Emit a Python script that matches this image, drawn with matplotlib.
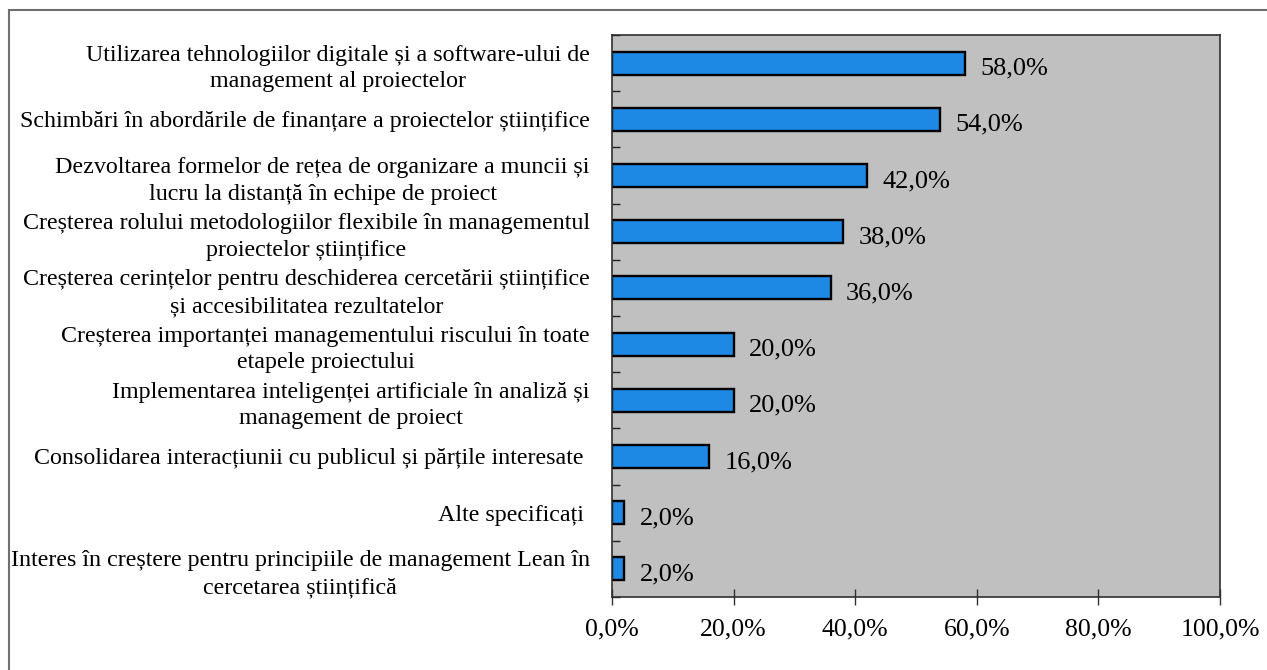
import numpy as np
import matplotlib
matplotlib.use('agg')
from matplotlib import pyplot as plt
from matplotlib.patches import Rectangle
from matplotlib.ticker import FuncFormatter

plt.rcParams['font.family'] = ['Liberation Serif', 'DejaVu Serif']

categories = [
    "Utilizarea tehnologiilor digitale și a software-ului de\nmanagement al proiectelor",
    "Schimbări în abordările de finanțare a proiectelor științifice",
    "Dezvoltarea formelor de rețea de organizare a muncii și\nlucru la distanță în echipe de proiect",
    "Creșterea rolului metodologiilor flexibile în managementul\nproiectelor științifice",
    "Creșterea cerințelor pentru deschiderea cercetării științifice\nși accesibilitatea rezultatelor",
    "Creșterea importanței managementului riscului în toate\netapele proiectului",
    "Implementarea inteligenței artificiale în analiză și\nmanagement de proiect",
    "Consolidarea interacțiunii cu publicul și părțile interesate ",
    "Alte specificați ",
    "Interes în creștere pentru principiile de management Lean în\ncercetarea științifică",
]
values = [58.0, 54.0, 42.0, 38.0, 36.0, 20.0, 20.0, 16.0, 2.0, 2.0]
xticks = [0, 20, 40, 60, 80, 100]

fig = plt.figure(figsize=(12.67, 6.70), dpi=100)
ax = fig.add_axes([612/1267, 1-597/670, (1220-612)/1267, (597-35)/670])

y = np.arange(len(values))
ax.barh(y, values, height=0.41, color='#1E88E5', edgecolor='black', linewidth=1.7)
ax.set_facecolor('#C0C0C0')
ax.set_xlim(0, 100)
ax.set_ylim(len(values)-0.5, -0.5)

for yi, v in zip(y, values):
    ax.annotate(f"{v:.1f}%".replace('.', ','), (v, yi), xytext=(11, -4),
                textcoords='offset points', ha='left', va='center', fontsize=19)

ax.set_yticks(y)
ax.set_yticklabels(categories, fontsize=17.3, multialignment='center', linespacing=1.35)
ax.tick_params(axis='y', length=0, pad=16)
ax.set_yticks(np.arange(len(values)+1)-0.5, minor=True)
ax.tick_params(axis='y', which='minor', direction='in', length=6, width=1, color='#202020')

ax.set_xticks(xticks)
ax.xaxis.set_major_formatter(FuncFormatter(lambda v, p: f"{v:.1f}%".replace('.', ',')))
ax.tick_params(axis='x', direction='inout', length=11, width=1, color='#303030',
               labelsize=18.5, pad=10)

for s in ax.spines.values():
    s.set_color('#303030')
    s.set_linewidth(1.2)

# outer frame
fig.patches.append(Rectangle((8.5/1267, -0.05), 1.2, 1-10/670+0.05, transform=fig.transFigure,
                             fill=False, edgecolor='#707070', linewidth=1.5, clip_on=False))

fig.savefig('out.png')
